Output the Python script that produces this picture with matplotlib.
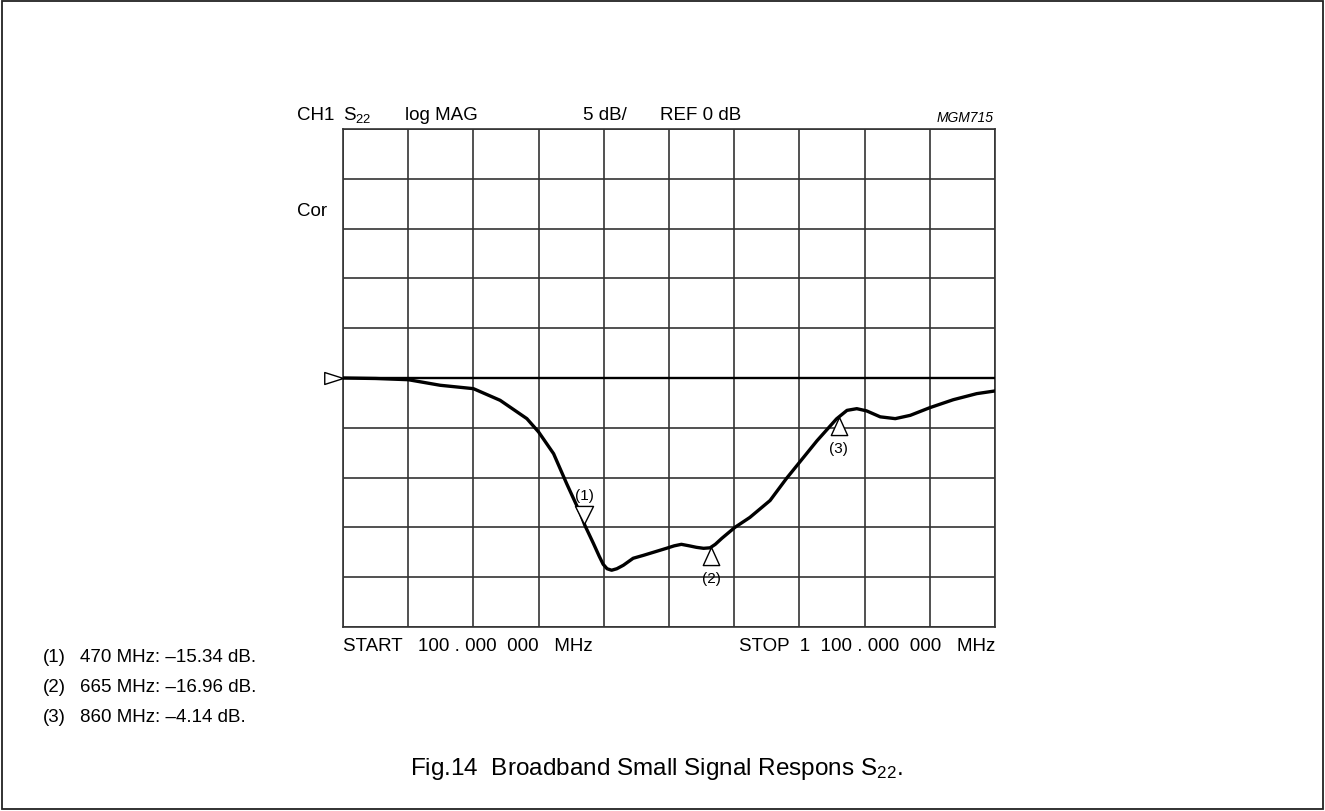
import numpy as np
import matplotlib
matplotlib.use("Agg")
import matplotlib.pyplot as plt
from matplotlib.patches import Rectangle

plt.rcParams["font.family"] = ["Liberation Sans", "DejaVu Sans"]
plt.rcParams["mathtext.fontset"] = "custom"
plt.rcParams["mathtext.rm"] = "Liberation Sans"
plt.rcParams["mathtext.it"] = "Liberation Sans:italic"

# ── Data ─────────────────────────────────────────────────
freq_mhz = [100, 150, 200, 249, 300, 341, 382, 400, 423, 443, 464, 471, 484,
            493, 499, 505, 512, 520, 530, 545, 561, 571, 586, 596, 608, 619,
            631, 642, 653, 663, 671, 681, 701, 724, 755, 780, 801, 827, 857,
            873, 888, 903, 924, 947, 970, 1000, 1036, 1072, 1100]
s22_db = [0.0, -0.05, -0.17, -0.73, -1.07, -2.24, -4.08, -5.42, -7.6, -10.6,
          -13.6, -14.8, -16.6, -17.9, -18.7, -19.15, -19.3, -19.15, -18.8,
          -18.1, -17.8, -17.6, -17.3, -17.1, -16.85, -16.7, -16.85, -17.0,
          -17.1, -17.05, -16.7, -16.1, -15.0, -14.0, -12.3, -10.1, -8.4, -6.3,
          -4.1, -3.25, -3.08, -3.3, -3.9, -4.08, -3.75, -2.98, -2.18, -1.57,
          -1.3]

marker_labels = ["(1)", "(2)", "(3)"]
marker_freq = [470, 665, 860]
marker_db = [-15.34, -16.96, -4.14]
marker_down = [True, False, False]

f_start, f_stop = 100, 1100
db_per_div, ref_db = 5, 0

fig = plt.figure(figsize=(13.25, 8.12), dpi=100)
ax = fig.add_axes([343 / 1325, 184 / 812, 652 / 1325, 498 / 812])

grid_col = "#333333"
ax.set_xlim(f_start, f_stop)
ax.set_ylim(ref_db - 5 * db_per_div, ref_db + 5 * db_per_div)
ax.set_xticks(np.arange(f_start, f_stop + 1, 100))
ax.set_yticks(np.arange(-25, 26, db_per_div))
ax.tick_params(length=0, labelbottom=False, labelleft=False)
ax.grid(True, color=grid_col, lw=1.2)
for s in ax.spines.values():
    s.set_color(grid_col)
    s.set_linewidth(1.2)

# reference line + ref marker
ax.axhline(ref_db, color="black", lw=1.7, zorder=3)
ax.plot([f_start], [ref_db], marker=[(0, 0), (-2.2, 0.7), (-2.2, -0.7), (0, 0)],
        ms=27, mfc="white", mec="black", mew=1.0, clip_on=False, zorder=4)

# trace
ax.plot(freq_mhz, s22_db, color="black", lw=2.4, zorder=5,
        solid_capstyle="round", solid_joinstyle="round")

# markers on the trace
for lab, f, down in zip(marker_labels, marker_freq, marker_down):
    y = np.interp(f, freq_mhz, s22_db)
    if down:
        verts = [(0, 0), (-0.5, 1.0), (0.5, 1.0), (0, 0)]
        off = 21
    else:
        verts = [(0, 0), (-0.5, -1.1), (0.5, -1.1), (0, 0)]
        off = -22
    ax.plot([f], [y], marker=verts, ms=26, mfc="white", mec="black",
            mew=1.0, zorder=6)
    ax.annotate(lab, (f, y), xytext=(0, off), textcoords="offset points",
                ha="center", va="center", fontsize=11)

# header texts
def ax_x(px):
    return (px - 343) / 652

def ax_y(py):
    return (628 - py) / 498

hy = ax_y(115)
ax.text(ax_x(297), hy, "CH1", transform=ax.transAxes, fontsize=13.5, va="center")
ax.text(ax_x(343), hy, r"S$_\mathrm{22}$", transform=ax.transAxes, fontsize=13.5,
        va="center")
ax.text(ax_x(405), hy, "log MAG", transform=ax.transAxes, fontsize=13.5, va="center")
ax.text(ax_x(583), hy, "5 dB/", transform=ax.transAxes, fontsize=13.5, va="center")
ax.text(ax_x(660), hy, "REF 0 dB", transform=ax.transAxes, fontsize=13.5, va="center")
ax.text(ax_x(994), ax_y(118), "MGM715", transform=ax.transAxes, fontsize=10,
        style="italic", ha="right", va="center")
ax.text(ax_x(297), ax_y(212), "Cor", transform=ax.transAxes, fontsize=13.5,
        va="center")

# start / stop
by = ax_y(647)
ax.text(0.0, by, "START   100 . 000  000   MHz", transform=ax.transAxes,
        fontsize=13.5, va="center", ha="left")
ax.text(1.0, by, "STOP  1  100 . 000  000   MHz", transform=ax.transAxes,
        fontsize=13.5, va="center", ha="right")

# marker readouts
for i, (lab, f, d) in enumerate(zip(marker_labels, marker_freq, marker_db)):
    yy = 1 - (658 + 30 * i) / 812
    fig.text(43 / 1325, yy, lab, fontsize=13.5, va="center")
    fig.text(80 / 1325, yy, f"{f} MHz: \u2013{abs(d):.2f} dB.", fontsize=13.5,
             va="center")

fig.text(410 / 1325, 1 - 769 / 812,
         r"Fig.14  Broadband Small Signal Respons S$_\mathrm{22}$.",
         fontsize=17.5, ha="left", va="center")

fig.patches.append(Rectangle((2 / 1325, 2 / 812), 1321 / 1325, 808 / 812,
                             transform=fig.transFigure, fill=False,
                             ec="#222222", lw=1.3))

plt.savefig("out.png", dpi=100)
